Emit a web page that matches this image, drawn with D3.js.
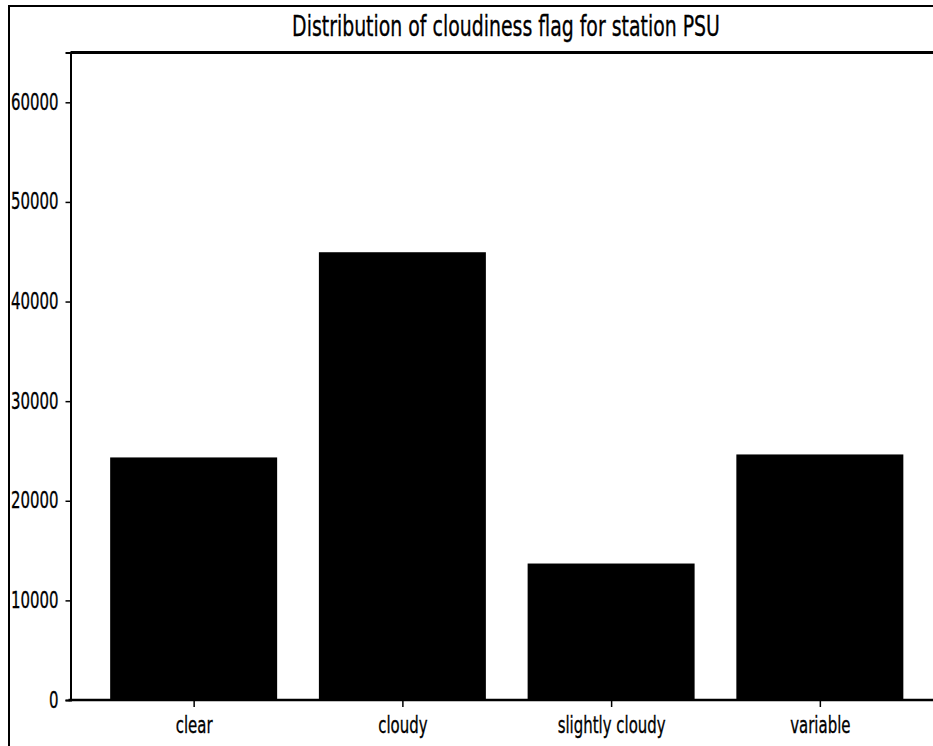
<!DOCTYPE html>
<html>
<head>
<meta charset="utf-8">
<script src="https://cdn.jsdelivr.net/npm/d3@7"></script>
<style>
  html, body { margin: 0; padding: 0; background: #fff; }
  svg { display: block; }
  text { font-family: "DejaVu Sans", sans-serif; fill: #000; stroke: #000; stroke-width: 0.35px; }
</style>
</head>
<body>
<svg id="chart" width="933" height="746"></svg>
<script>
// Counts of each cloudiness flag recorded at station PSU
const categories = ["clear", "cloudy", "slightly cloudy", "variable"];
const counts = [24350, 44950, 13700, 24650];
const yTicks = [0, 10000, 20000, 30000, 40000, 50000, 60000];
const titleText = "Distribution of cloudiness flag for station PSU";

(function drawChart() {
  const svg = d3.select("#chart");
  const W = 933, H = 746;

  // plot area (the right spine sits just past the visible edge)
  const plotLeft = 70.5, plotRight = 943, plotTop = 52.5, plotBottom = 700;
  const squeeze = 0.65; // narrow glyphs

  // outer frame
  svg.append("rect")
    .attr("x", 9).attr("y", 6)
    .attr("width", W + 20).attr("height", H + 20)
    .attr("fill", "none").attr("stroke", "#000").attr("stroke-width", 2);

  const x = d3.scaleLinear()
    .domain([-0.59, categories.length - 1 + 0.59])
    .range([plotLeft, plotRight]);
  const y = d3.scaleLinear().domain([0, 65000]).range([plotBottom, plotTop]);
  const barW = 0.8;

  // bars
  svg.append("g").selectAll("rect")
    .data(counts)
    .join("rect")
    .attr("x", (d, i) => x(i - barW / 2))
    .attr("width", x(barW) - x(0))
    .attr("y", d => y(d))
    .attr("height", d => y(0) - y(d))
    .attr("fill", "#000");

  // y axis
  const yAxis = svg.append("g")
    .attr("transform", `translate(${plotLeft},0)`)
    .call(d3.axisLeft(y).tickValues(yTicks).tickFormat(d3.format("d")).tickSize(5).tickPadding(0));
  yAxis.select(".domain").attr("stroke-width", 2);
  yAxis.selectAll(".tick line").attr("stroke-width", 1.5);
  yAxis.selectAll(".tick text")
    .attr("font-size", 23)
    .attr("x", 0)
    .attr("dy", "0.35em")
    .attr("transform", `translate(-12,-1) scale(${squeeze},1)`);

  // x axis
  const xAxis = svg.append("g")
    .attr("transform", `translate(0,${plotBottom})`)
    .call(d3.axisBottom(x).tickValues(d3.range(categories.length))
      .tickFormat(i => categories[i]).tickSize(7).tickPadding(0));
  xAxis.select(".domain").remove();
  xAxis.selectAll(".tick line").attr("stroke-width", 1.5);
  xAxis.selectAll(".tick text")
    .attr("font-size", 23)
    .attr("y", 0)
    .attr("dy", 0)
    .attr("transform", `translate(0,33) scale(${squeeze},1)`);

  // spines: top and bottom
  svg.append("line").attr("x1", plotLeft).attr("x2", plotRight).attr("y1", plotTop).attr("y2", plotTop)
    .attr("stroke", "#000").attr("stroke-width", 3);
  svg.append("line").attr("x1", plotLeft - 2).attr("x2", plotRight).attr("y1", plotBottom).attr("y2", plotBottom)
    .attr("stroke", "#000").attr("stroke-width", 2.5);

  // title, narrowed to the same glyph proportions as the axis text
  const title = svg.append("text")
    .attr("x", 0).attr("y", 0)
    .attr("text-anchor", "middle")
    .attr("font-size", 29)
    .text(titleText);
  const natural = title.node().getComputedTextLength();
  const titleScale = natural > 0 ? 428 / natural : squeeze;
  title.attr("transform", `translate(506,36) scale(${titleScale},1)`);
})();
</script>
</body>
</html>
